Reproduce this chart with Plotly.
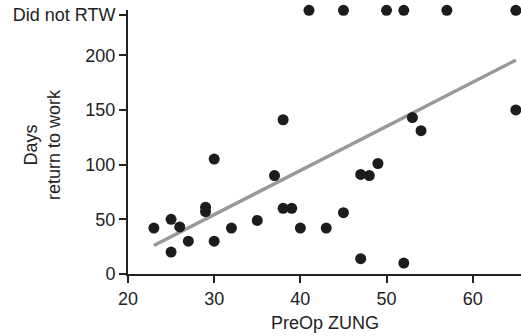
import plotly.graph_objects as go

# Patients who returned to work
zung = [23, 25, 25, 26, 27, 29, 29, 30, 30, 32, 35, 37, 38, 38, 39, 40, 43, 45, 47, 47, 48, 49, 52, 53, 54, 65]
days = [42, 50, 20, 43, 30, 61, 57, 30, 105, 42, 49, 90, 141, 60, 60, 42, 42, 56, 91, 14, 90, 101, 10, 143, 131, 150]

# Patients who did not return to work (plotted on the "Did not RTW" row)
nortw_zung = [41, 45, 50, 52, 57, 65]
nortw_days = [241, 241, 241, 241, 241, 241]

# Regression line endpoints
fit_x = [23, 65]
fit_y = [26, 195.5]

y_tickvals = [0, 50, 100, 150, 200, 237]
y_ticktext = ["0", "50", "100", "150", "200", "Did not RTW"]
x_tickvals = [20, 30, 40, 50, 60]

dot_color = "#1c1c1c"
font = dict(family="Liberation Sans, Arial, sans-serif", size=18, color="#222222")

fig = go.Figure()
fig.add_trace(go.Scatter(x=fit_x, y=fit_y, mode="lines",
                         line=dict(color="#999999", width=3.5),
                         cliponaxis=False, hoverinfo="skip"))
fig.add_trace(go.Scatter(x=zung, y=days, mode="markers",
                         marker=dict(color=dot_color, size=11),
                         cliponaxis=False))
fig.add_trace(go.Scatter(x=nortw_zung, y=nortw_days, mode="markers",
                         marker=dict(color=dot_color, size=11),
                         cliponaxis=False))

fig.update_layout(
    width=521, height=336,
    margin=dict(l=128, r=0, t=10, b=62),
    paper_bgcolor="white", plot_bgcolor="white",
    showlegend=False,
    font=font,
    xaxis=dict(range=[20, 65.6], tickvals=x_tickvals, showgrid=False, zeroline=False,
               showline=True, linecolor="#222222", linewidth=2, automargin=False,
               ticks="outside", ticklen=7, tickwidth=2, tickcolor="#222222",
               tickfont=font),
    yaxis=dict(range=[0, 241.3], tickvals=y_tickvals, ticktext=y_ticktext,
               showgrid=False, zeroline=False, automargin=False,
               showline=True, linecolor="#222222", linewidth=2,
               ticks="outside", ticklen=7, tickwidth=2, tickcolor="#222222",
               tickfont=font),
    annotations=[
        dict(text="PreOp ZUNG", xref="paper", yref="paper", x=0.5, y=-0.185,
             xanchor="center", yanchor="middle", showarrow=False, font=font),
        dict(text="Days<br>return to work", xref="paper", yref="paper", x=-0.218, y=0.49,
             xanchor="center", yanchor="middle", textangle=-90, showarrow=False, font=font),
    ],
)

fig.write_html("out.html", config={"displayModeBar": False},
               post_script="document.body.style.margin='0';")
